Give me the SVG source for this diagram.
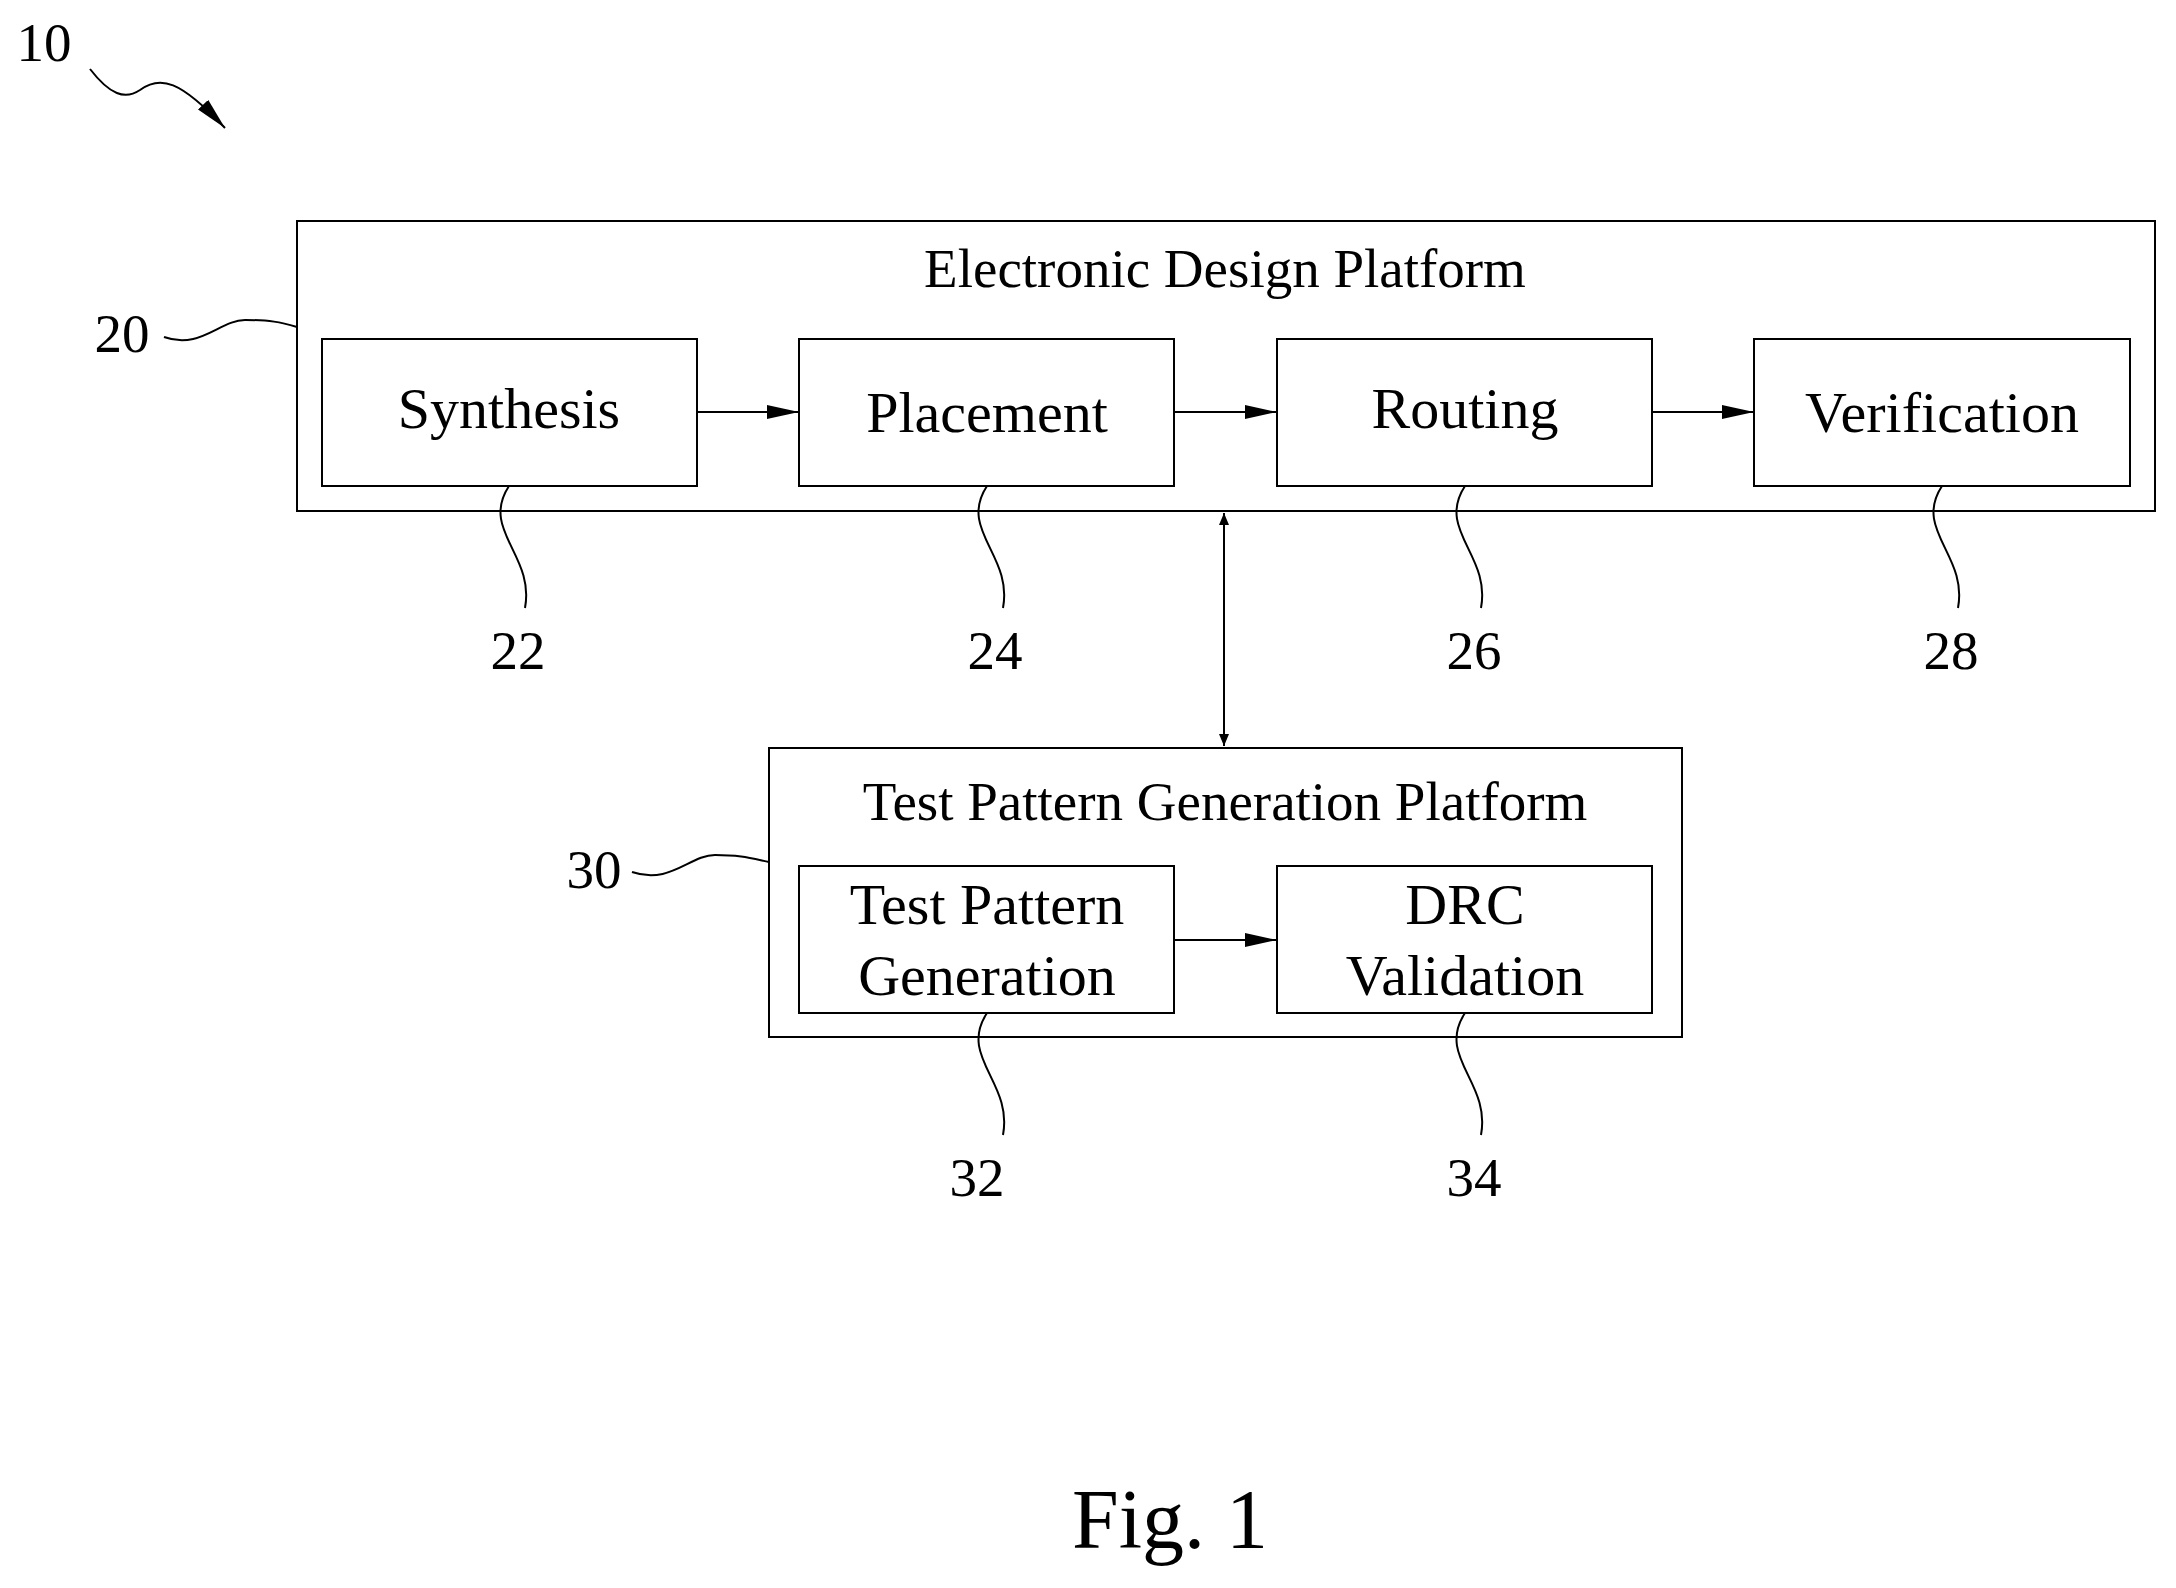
<svg xmlns="http://www.w3.org/2000/svg" width="2176" height="1588" viewBox="0 0 2176 1588">
<style>
.b{fill:none;stroke:#000;stroke-width:2}
.t{font-family:"Liberation Serif",serif;fill:#000;text-anchor:middle}
.m{font-size:58px}
.n{font-size:55px}
.l{fill:none;stroke:#000;stroke-width:2}
</style>
<defs><marker id="a" markerWidth="12" markerHeight="10" refX="12" refY="5" orient="auto-start-reverse" markerUnits="userSpaceOnUse" viewBox="0 0 12 10"><path d="M0,0L12,5L0,10z" fill="#000"/></marker>
<marker id="a2" markerWidth="32" markerHeight="14" refX="32" refY="7" orient="auto" markerUnits="userSpaceOnUse" viewBox="0 0 32 14"><path d="M0,0L32,7L0,14z" fill="#000"/></marker></defs>
<rect width="2176" height="1588" fill="#fff"/>
<g id="n20"><rect class="b" x="297" y="221" width="1858" height="290"/><text class="t n" x="1225" y="287">Electronic Design Platform</text></g>
<g id="n22"><rect class="b" x="322" y="339" width="375" height="147"/><text class="t m" x="509" y="428">Synthesis</text></g>
<g id="n24"><rect class="b" x="799" y="339" width="375" height="147"/><text class="t m" x="987" y="432">Placement</text></g>
<g id="n26"><rect class="b" x="1277" y="339" width="375" height="147"/><text class="t m" x="1465" y="428">Routing</text></g>
<g id="n28"><rect class="b" x="1754" y="339" width="376" height="147"/><text class="t m" x="1942" y="432">Verification</text></g>
<g id="n30"><rect class="b" x="769" y="748" width="913" height="289"/><text class="t n" x="1225" y="820">Test Pattern Generation Platform</text></g>
<g id="n32"><rect class="b" x="799" y="866" width="375" height="147"/><text class="t m" x="987" y="924">Test Pattern</text><text class="t m" x="987" y="995">Generation</text></g>
<g id="n34"><rect class="b" x="1277" y="866" width="375" height="147"/><text class="t m" x="1465" y="924">DRC</text><text class="t m" x="1465" y="995">Validation</text></g>
<g id="connectors">
<line class="l" x1="697" y1="412" x2="799" y2="412" marker-end="url(#a2)"/>
<line class="l" x1="1174" y1="412" x2="1277" y2="412" marker-end="url(#a2)"/>
<line class="l" x1="1652" y1="412" x2="1754" y2="412" marker-end="url(#a2)"/>
<line class="l" x1="1174" y1="940" x2="1277" y2="940" marker-end="url(#a2)"/>
<line class="l" x1="1224" y1="513" x2="1224" y2="746" marker-start="url(#a)" marker-end="url(#a)"/>
</g>
<g id="labels">
<path class="l" d="M509,486 C480,530 535,555 525,608"/>
<path class="l" d="M987,486 C958,530 1013,555 1003,608"/>
<path class="l" d="M1465,486 C1436,530 1491,555 1481,608"/>
<path class="l" d="M1942,486 C1913,530 1968,555 1958,608"/>
<path class="l" d="M987,1013 C958,1057 1013,1082 1003,1135"/>
<path class="l" d="M1465,1013 C1436,1057 1491,1082 1481,1135"/>
<path class="l" d="M632,872 C670,885 690,855 715,855 C740,855 750,858 769,862"/>
<path class="l" d="M164,337 C200,350 220,320 245,320 C270,320 280,322 297,327"/>
<path class="l" d="M90,69 C110,95 125,100 140,90 C160,75 180,80 225,128" marker-end="url(#a2)"/>
<text class="t n" x="518" y="669">22</text>
<text class="t n" x="995" y="669">24</text>
<text class="t n" x="1474" y="669">26</text>
<text class="t n" x="1951" y="669">28</text>
<text class="t n" x="977" y="1196">32</text>
<text class="t n" x="1474" y="1196">34</text>
<text class="t n" x="594" y="888">30</text>
<text class="t n" x="122" y="352">20</text>
<text class="t n" x="44" y="61">10</text>
<text class="t" style="font-size:84px" x="1170" y="1548">Fig. 1</text>
</g>
</svg>
